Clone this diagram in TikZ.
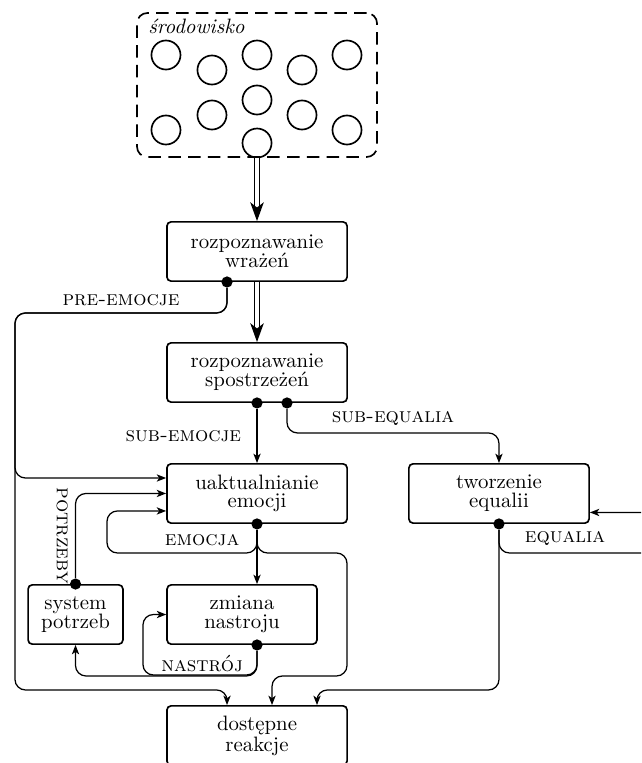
\documentclass[tikz,border=0pt]{standalone}
\usepackage{tikz}
\usetikzlibrary{arrows.meta}

\begin{document}
\begin{tikzpicture}[x=1cm,y=1cm,
  box/.style={draw,thick,rounded corners=2pt,align=center,
    minimum width=3.04cm,minimum height=1cm,font=\fontsize{10}{9}\selectfont},
  dot/.style={circle,fill=black,inner sep=1.9pt},
  flow/.style={semithick,rounded corners=5pt,
    -{Stealth[length=4.5pt,width=3.5pt,inset=1.2pt]}},
  pass/.style={double,semithick,double distance=1.6pt,
    -{Stealth[length=9pt,width=6.5pt,inset=2.5pt]}},
  tag/.style={font=\scshape}]
  \useasboundingbox (0,0) rectangle (10.814,12.872);
  \clip (0,0) rectangle (10.814,12.872);
  % srodowisko
  \node[draw,thick,dash pattern=on 6pt off 3.5pt,rounded corners=5pt,
    minimum width=4.05cm,minimum height=2.43cm] (env) at (4.336,11.438) {};
  \node[anchor=west,font=\itshape] (envlabel) at (2.38,12.42) {środowisko};
  \foreach \cx/\cy in {2.800/11.944,2.800/10.679,3.576/11.691,3.576/10.932,
    4.336/11.944,4.336/11.185,4.336/10.459,5.095/11.691,5.095/10.932,
    5.854/11.944,5.854/10.679}
    \draw[thick] (\cx,\cy) circle (0.245);
  % bloki
  \node[box] (rw) at (4.336,8.629) {rozpoznawanie\\wrażeń};
  \node[box] (rs) at (4.336,6.588) {rozpoznawanie\\spostrzeżeń};
  \node[box] (ue) at (4.336,4.547) {uaktualnianie\\emocji};
  \node[box] (te) at (8.418,4.547) {tworzenie\\equalii};
  \node[box,minimum width=2.53cm] (zn) at (4.083,2.505) {zmiana\\nastroju};
  \node[box,minimum width=1.6cm] (sp) at (1.274,2.505) {system\\potrzeb};
  \node[box] (dr) at (4.336,0.464) {dostępne\\reakcje};
  % wyjscia
  \node[dot] (pre) at ([xshift=-0.506cm]rw.south) {};
  \node[dot] (sube) at (rs.south) {};
  \node[dot] (subq) at ([xshift=0.506cm]rs.south) {};
  \node[dot] (emo) at (ue.south) {};
  \node[dot] (equ) at (te.south) {};
  \node[dot] (nas) at ([xshift=0.253cm]zn.south) {};
  \node[dot] (pot) at (sp.north) {};
  % polaczenia
  \draw[pass] (env.south) -- (rw.north);
  \draw[pass] (rw.south) -- (rs.north);
  \draw[flow] (pre) |- (0.253,7.592) |- ([yshift=0.261cm]ue.west);
  \draw[flow] (pre) |- node[pos=0.75,above,tag] {pre-emocje} (0.253,7.592)
    |- (3.83,1.232) -- ([xshift=-0.506cm]dr.north);
  \draw[flow] (sube) -- node[left=4pt,tag] {sub-emocje} (ue.north);
  \draw[flow] (subq) -- ++(0,-0.506) -| node[pos=0.25,above,tag] {sub-equalia} (te.north);
  \draw[flow] (emo) |- node[pos=0.683,above,tag] {emocja} (1.805,3.543)
    |- ([yshift=-0.295cm]ue.west);
  \draw[flow] (emo) |- (5.854,3.543) |- (4.589,1.468) -- ([xshift=0.253cm]dr.north);
  \draw[flow] (emo) -- (emo |- zn.north);
  \draw[flow] (pot) |- node[pos=0.25,rotate=-90,anchor=north,tag] {potrzeby} (ue.west);
  \draw[flow] (nas) -- ++(0,-0.523) -| (sp.south);
  \draw[flow] (nas) |- node[pos=0.741,above,inner sep=1pt,tag] {nastrój} (2.412,1.485)
    |- (zn.west);
  \draw[flow] (equ) |- node[pos=0.705,above,tag] {equalia} (11.134,3.543)
    |- ([yshift=-0.32cm]te.east);
  \draw[flow] (equ) |- (5.348,1.232) -- ([xshift=1.012cm]dr.north);
\end{tikzpicture}
\end{document}
